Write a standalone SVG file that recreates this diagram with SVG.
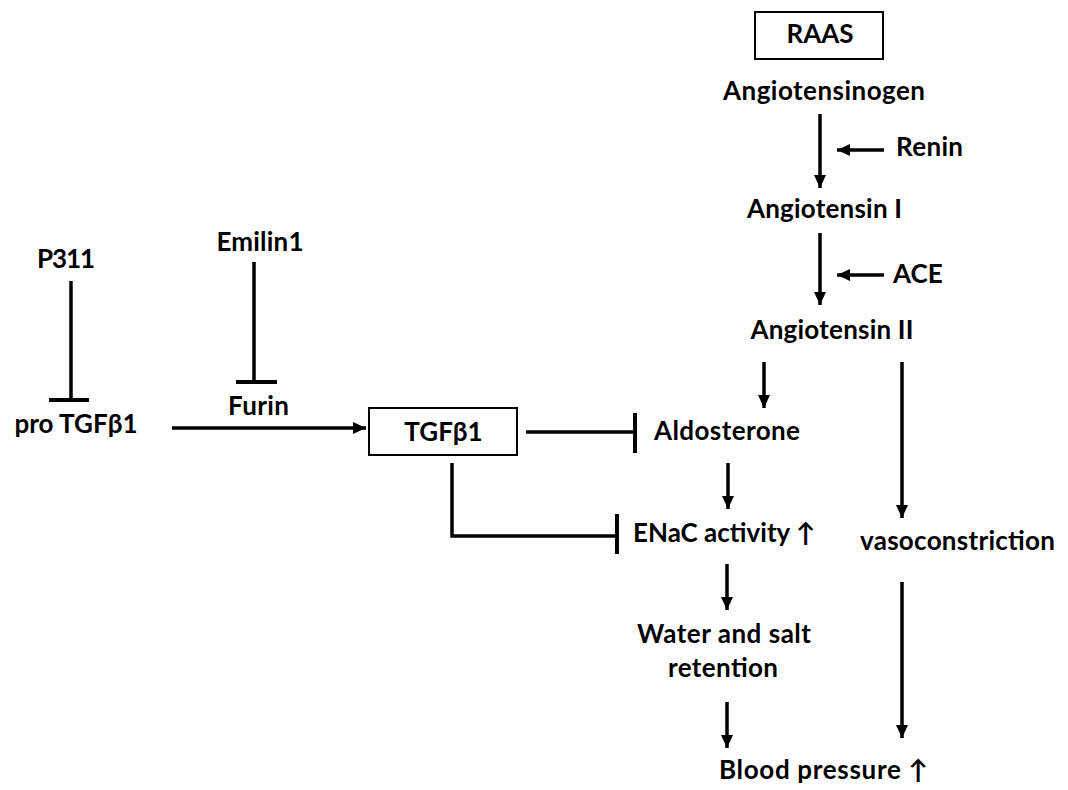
<svg xmlns="http://www.w3.org/2000/svg" width="1068" height="790" viewBox="0 0 1068 790">
<style>
text{font-family:Lato,"Liberation Sans","DejaVu Sans",sans-serif;font-weight:bold;font-size:26px;fill:#000}
.c{text-anchor:middle}
.ln{stroke:#000;stroke-width:3.5;fill:none}
.bar{stroke:#000;stroke-width:4;fill:none}
.box{stroke:#000;stroke-width:2;fill:#fff}
</style>
<defs>
<marker id="ah" markerUnits="userSpaceOnUse" markerWidth="13" markerHeight="12" refX="13" refY="6" orient="auto">
<path d="M0,0 L13,6 L0,12 z" fill="#000"/>
</marker>
</defs>
<rect width="1068" height="790" fill="#fff"/>
<g id="connectors">
<line class="ln" x1="820" y1="114" x2="820" y2="188" marker-end="url(#ah)"/>
<line class="ln" x1="884" y1="150" x2="837" y2="150" marker-end="url(#ah)"/>
<line class="ln" x1="820" y1="233" x2="820" y2="305" marker-end="url(#ah)"/>
<line class="ln" x1="884" y1="275" x2="837" y2="275" marker-end="url(#ah)"/>
<line class="ln" x1="764" y1="362" x2="764" y2="408" marker-end="url(#ah)"/>
<line class="ln" x1="902" y1="362" x2="902" y2="518" marker-end="url(#ah)"/>
<line class="ln" x1="71" y1="281" x2="71" y2="400"/>
<line class="bar" x1="49" y1="400" x2="89" y2="400"/>
<line class="ln" x1="254" y1="262" x2="254" y2="382"/>
<line class="bar" x1="236" y1="382" x2="277" y2="382"/>
<line class="ln" x1="172" y1="428" x2="366" y2="428" marker-end="url(#ah)"/>
<line class="ln" x1="526" y1="432" x2="635" y2="432"/>
<line class="bar" x1="635" y1="413" x2="635" y2="453"/>
<polyline class="ln" points="452,463 452,536 617,536"/>
<line class="bar" x1="617" y1="514" x2="617" y2="554"/>
<line class="ln" x1="728" y1="463" x2="728" y2="509" marker-end="url(#ah)"/>
<line class="ln" x1="727" y1="564" x2="727" y2="610" marker-end="url(#ah)"/>
<line class="ln" x1="727" y1="702" x2="727" y2="748" marker-end="url(#ah)"/>
<line class="ln" x1="902" y1="582" x2="902" y2="738" marker-end="url(#ah)"/>
</g>
<g id="raas"><rect class="box" x="755" y="12" width="128" height="47"/><text class="c" x="820" y="43">RAAS</text></g>
<g id="angiotensinogen"><text class="c" x="824" y="100" textLength="202">Angiotensinogen</text></g>
<g id="renin"><text x="896" y="156" textLength="67">Renin</text></g>
<g id="angiotensin1"><text class="c" x="824.5" y="218" textLength="155">Angiotensin I</text></g>
<g id="ace"><text x="893" y="283">ACE</text></g>
<g id="angiotensin2"><text class="c" x="832" y="339" textLength="163">Angiotensin II</text></g>
<g id="p311"><text class="c" x="66" y="268" textLength="58">P311</text></g>
<g id="emilin1"><text class="c" x="260" y="251" textLength="87">Emilin1</text></g>
<g id="furin"><text class="c" x="258.5" y="415" textLength="61">Furin</text></g>
<g id="protgfb1"><text class="c" x="76" y="433">pro TGFβ1</text></g>
<g id="tgfb1"><rect class="box" x="369" y="408" width="148" height="47"/><text class="c" x="443.5" y="441">TGFβ1</text></g>
<g id="aldosterone"><text class="c" x="727" y="440" textLength="146">Aldosterone</text></g>
<g id="enac"><text x="633" y="542">ENaC activity ↑</text></g>
<g id="vasoconstriction"><text class="c" x="957.5" y="550" textLength="195">vasoconstriction</text></g>
<g id="retention"><text class="c" x="724" y="643" textLength="174">Water and salt</text><text class="c" x="723" y="677" textLength="110">retention</text></g>
<g id="bp"><text x="719" y="779" textLength="209">Blood pressure ↑</text></g>
</svg>
